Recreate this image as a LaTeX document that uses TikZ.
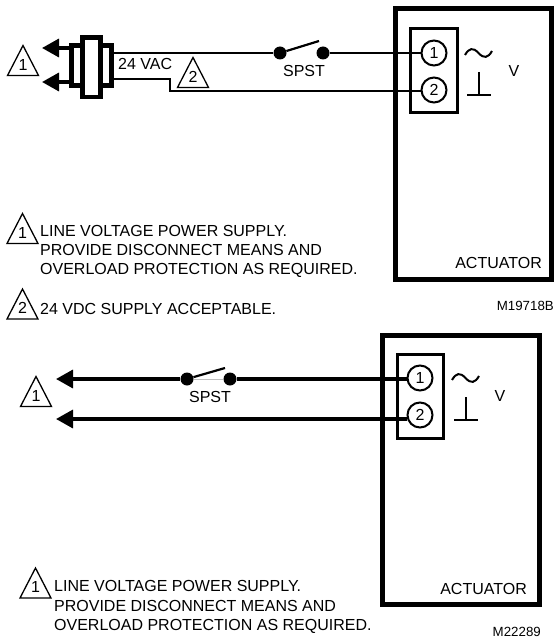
\documentclass[tikz,border=0pt]{standalone}
\usepackage{fontspec}
\setmainfont{Liberation Sans}
\usetikzlibrary{arrows.meta}
\tikzset{
    lab/.style={inner sep=0pt, font=\fontsize{16}{19.4}\selectfont},
    num/.style={inner sep=0pt, font=\fontsize{16}{16}\selectfont},
    tiny/.style={inner sep=0pt, font=\fontsize{13.3}{15}\selectfont},
    wire/.style={line width=2pt},
    powerwire/.style={line width=3.4pt},
    arrowwire/.style={line width=3.4pt, -{Triangle[length=17pt,width=18pt]}},
    blade/.style={line width=2.2pt},
    dot/.style={circle, fill=black, inner sep=0pt, minimum size=13pt},
    terminal/.style={circle, draw, fill=white, line width=2pt, inner sep=0pt, minimum size=25pt, font=\fontsize{16}{16}\selectfont},
    coil/.style={rectangle, draw, fill=white, line width=4.7pt, inner sep=0pt},
    actbox/.style={rectangle, draw, line width=5pt, inner sep=0pt},
    termblock/.style={rectangle, draw, line width=3pt, inner sep=0pt},
}
\newcommand{\notemark}[4]{
    \draw[line width=1.3pt, line join=miter] ({#1-15.5},{#2+15}) -- (#1,{#2-15}) -- ({#1+15.5},{#2+15}) -- cycle;
    \node[num] (#3) at (#1,{#2+4}) {#4};
}
\begin{document}
\begin{tikzpicture}[x=1pt,y=-1pt]
    \useasboundingbox (0,0) rectangle (554,639);

    % Upper actuator
    \node[actbox, minimum width=155.2pt, minimum height=271pt] (acta) at (473.4,144) {};
    \node[termblock, minimum width=47pt, minimum height=84pt] (blocka) at (434,71) {};
    \node[terminal] (ta) at (434,53) {1};
    \node[terminal] (tb) at (434,90) {2};
    \draw[wire] (465,55) .. controls (469,48) and (473,47) .. (478.5,53) .. controls (484,59) and (488,58) .. (492,51);
    \draw[wire] (479,72) -- (479,95);
    \draw[wire] (467,95) -- (491,95);
    \node[lab] (va) at (514,71) {V};
    \node[lab, anchor=east] (namea) at (542,263) {ACTUATOR};
    \node[tiny, anchor=east] (refa) at (554,306) {M19718B};

    % Upper transformer
    \node[coil, minimum width=40pt, minimum height=40pt] (coila) at (91.7,65.8) {};
    \node[coil, minimum width=18pt, minimum height=59.4pt] (coilb) at (91.5,67.3) {};
    \coordinate (tipa) at (42,48);
    \coordinate (tipb) at (42,82);
    \draw[arrowwire] (coila.west |- tipa) -- (tipa);
    \draw[arrowwire] (coila.west |- tipb) -- (tipb);

    % Upper wires and switch
    \node[dot] (swa) at (280,53) {};
    \node[dot] (swb) at (323,53) {};
    \coordinate (bladea) at (319,41);
    \coordinate (kinka) at (170,78.7);
    \coordinate (kinkb) at (170,91.5);
    \draw[wire] (coila.east |- swa) -- (swa);
    \draw[blade] (swa) -- (bladea);
    \draw[wire] (swb) -- (ta);
    \draw[wire] (coila.east |- kinka) -- (kinka) -- (kinkb) -- (kinkb -| tb.west);
    \node[lab] (spsta) at (304,71) {SPST};
    \node[lab, anchor=west] (vac) at (118,64) {24 VAC};
    \notemark{23}{60.5}{marka}{1}
    \notemark{193}{72.5}{markb}{2}

    % Upper notes
    \notemark{22.5}{228.5}{markc}{1}
    \node[lab, anchor=west, align=left] (notea) at (40,251.5) {LINE VOLTAGE POWER SUPPLY.\\PROVIDE DISCONNECT MEANS AND\\OVERLOAD PROTECTION AS REQUIRED.};
    \notemark{22.5}{304}{markd}{2}
    \node[lab, anchor=west] (noteb) at (40,309) {24 VDC SUPPLY ACCEPTABLE.};

    % Lower actuator
    \node[actbox, minimum width=157pt, minimum height=269.5pt] (actb) at (461,469.8) {};
    \node[termblock, minimum width=46pt, minimum height=84pt] (blockb) at (420.5,396.5) {};
    \node[terminal] (tc) at (420,378) {1};
    \node[terminal] (td) at (420,415) {2};
    \draw[wire] (452,380) .. controls (456,373) and (460,372) .. (465.5,378) .. controls (471,384) and (475,383) .. (479,376);
    \draw[wire] (466,397) -- (466,420);
    \draw[wire] (454,420) -- (478,420);
    \node[lab] (vb) at (500,396) {V};
    \node[lab, anchor=east] (nameb) at (527,589) {ACTUATOR};
    \node[tiny, anchor=east] (refb) at (541,632) {M22289};

    % Lower wires and switch
    \node[dot] (swc) at (187,379) {};
    \node[dot] (swd) at (230,379) {};
    \coordinate (bladeb) at (225,368);
    \coordinate (tipc) at (56,379);
    \coordinate (tipd) at (56,419);
    \draw[arrowwire] (swc) -- (tipc);
    \draw[powerwire] (swd) -- (swd -| tc.west);
    \draw[arrowwire] (tipd -| td.west) -- (tipd);
    \draw[gray!50, line width=0.7pt] (swc) -- (swd);
    \draw[blade] (swc) -- (bladeb);
    \node[lab] (spstb) at (210,397) {SPST};
    \notemark{36}{391.5}{marke}{1}

    % Lower notes
    \notemark{35.5}{583}{markf}{1}
    \node[lab, anchor=west, align=left] (notec) at (54,607) {LINE VOLTAGE POWER SUPPLY.\\PROVIDE DISCONNECT MEANS AND\\OVERLOAD PROTECTION AS REQUIRED.};
\end{tikzpicture}
\end{document}
